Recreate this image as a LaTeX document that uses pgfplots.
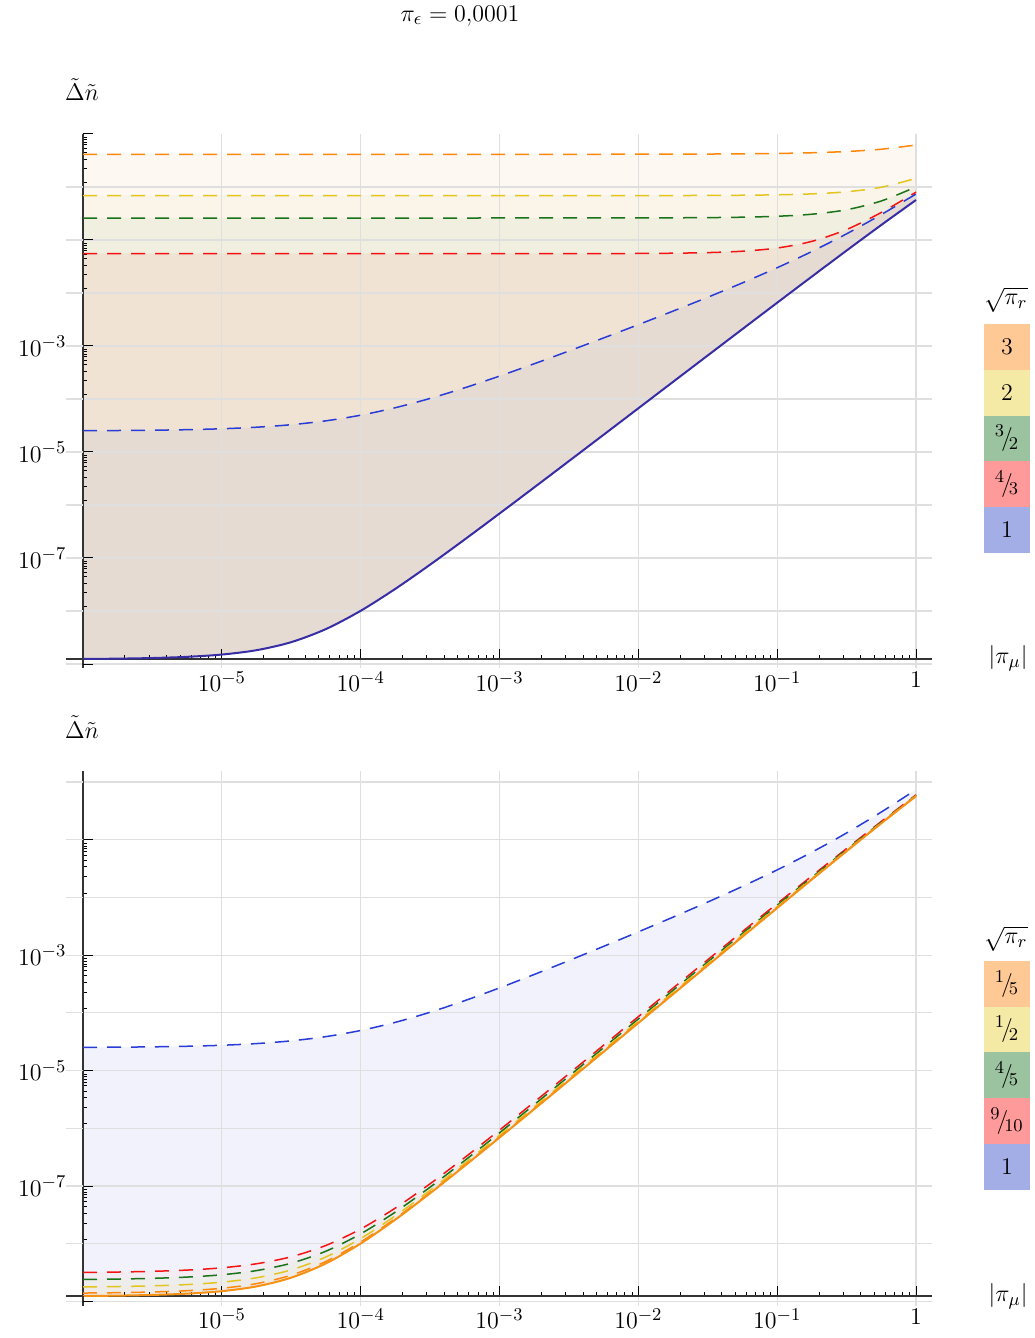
\documentclass[border=0pt]{standalone}
\usepackage{pgfplots}
\pgfplotsset{compat=1.18}
\usepackage{pgfplotstable}

\definecolor{cB}{RGB}{40,60,215}
\definecolor{cR}{RGB}{245,20,20}
\definecolor{cG}{RGB}{25,115,25}
\definecolor{cY}{RGB}{228,196,30}
\definecolor{cO}{RGB}{255,135,10}
\definecolor{cSolidTop}{RGB}{55,45,165}
\definecolor{cSolidBot}{RGB}{245,145,20}
% band colours of the shaded regions
\definecolor{tbO}{RGB}{253,248,241}
\definecolor{tbY}{RGB}{251,245,233}
\definecolor{tbG}{RGB}{241,239,224}
\definecolor{tbR}{RGB}{240,227,212}
\definecolor{tbB}{RGB}{230,219,210}
\definecolor{bbB}{RGB}{241,242,251}
\definecolor{bbR}{RGB}{243,236,242}
\definecolor{bbG}{RGB}{237,237,236}
\definecolor{bbY}{RGB}{239,236,232}
\definecolor{bbO}{RGB}{238,234,230}
% legend swatches
\definecolor{lO}{RGB}{255,201,150}
\definecolor{lY}{RGB}{245,233,166}
\definecolor{lG}{RGB}{156,195,159}
\definecolor{lR}{RGB}{255,154,154}
\definecolor{lB}{RGB}{163,173,230}

% upper panel: lower bound S and upper bounds for sqrt(pi_r) = 1, 4/3, 3/2, 2, 3
\pgfplotstableread{
x S B R G Y O
1e-6 1.2427e-9 2.5245e-5 0.0552 0.26 0.686 4.14
1.778e-6 1.2612e-9 2.5436e-5 0.0552 0.26 0.686 4.14
3.162e-6 1.2963e-9 2.5775e-5 0.0552 0.26 0.686 4.14
5.623e-6 1.3648e-9 2.6378e-5 0.0552 0.26 0.686 4.14
1e-5 1.5067e-9 2.745e-5 0.0552 0.26 0.686 4.14
1.778e-5 1.8219e-9 2.9356e-5 0.0552 0.26 0.686 4.14
3.162e-5 2.583e-9 3.2747e-5 0.0552 0.26 0.686 4.14
5.623e-5 4.566e-9 3.8776e-5 0.0552 0.26 0.686 4.14
1e-4 1.009e-8 4.950e-5 0.0552 0.26 0.686 4.14
1.778e-4 2.622e-8 6.856e-5 0.0552 0.26 0.686 4.14
3.162e-4 7.488e-8 1.0254e-4 0.0552 0.26 0.686 4.14
5.623e-4 2.245e-7 1.6294e-4 0.05521 0.26005 0.68611 4.1408
1e-3 6.902e-7 2.7058e-4 0.05522 0.26009 0.68620 4.1415
1.778e-3 2.149e-6 4.624e-4 0.05525 0.26017 0.68636 4.1427
3.162e-3 6.737e-6 8.053e-4 0.05531 0.26032 0.68664 4.1447
5.623e-3 2.119e-5 1.4202e-3 0.05543 0.26061 0.68715 4.1484
1e-2 6.681e-5 2.5306e-3 0.05571 0.26117 0.68807 4.1550
1.778e-2 2.107e-4 4.556e-3 0.05634 0.26229 0.68977 4.1667
3.162e-2 6.641e-4 8.325e-3 0.05784 0.26458 0.69299 4.1878
5.623e-2 2.090e-3 1.5544e-2 0.06146 0.26947 0.69934 4.2259
0.1 6.561e-3 3.0009e-2 0.07058 0.28046 0.71256 4.2956
0.1778 2.047e-2 6.076e-2 0.09431 0.30665 0.74203 4.4254
0.3162 6.33e-2 0.13096 0.1579 0.37262 0.81254 4.6744
0.5623 0.1925 0.30198 0.3310 0.5454 0.99096 5.1703
1 0.570 0.7378 0.8012 1.005 1.456 6.20
}\toptab

% lower panel: same S and B, upper bounds for sqrt(pi_r) = 9/10, 4/5, 1/2, 1/5
\pgfplotstableread{
x S B R G Y O
1e-6 1.2427e-9 2.5245e-5 3.183e-9 2.407e-9 1.786e-9 1.398e-9
1.778e-6 1.2612e-9 2.5436e-5 3.233e-9 2.444e-9 1.813e-9 1.419e-9
3.162e-6 1.2963e-9 2.5775e-5 3.325e-9 2.513e-9 1.864e-9 1.459e-9
5.623e-6 1.3648e-9 2.6378e-5 3.496e-9 2.644e-9 1.962e-9 1.535e-9
1e-5 1.5067e-9 2.745e-5 3.827e-9 2.899e-9 2.156e-9 1.692e-9
1.778e-5 1.8219e-9 2.9356e-5 4.496e-9 3.426e-9 2.571e-9 2.036e-9
3.162e-5 2.583e-9 3.2747e-5 5.948e-9 4.602e-9 3.525e-9 2.852e-9
5.623e-5 4.566e-9 3.8776e-5 9.347e-9 7.435e-9 5.905e-9 4.949e-9
1e-4 1.009e-8 4.950e-5 1.799e-8 1.483e-8 1.230e-8 1.072e-8
1.778e-4 2.622e-8 6.856e-5 4.155e-8 3.542e-8 3.051e-8 2.745e-8
3.162e-4 7.488e-8 1.0254e-4 1.0939e-7 9.559e-8 8.454e-8 7.764e-8
5.623e-4 2.245e-7 1.6294e-4 3.119e-7 2.770e-7 2.490e-7 2.315e-7
1e-3 6.902e-7 2.7058e-4 9.309e-7 8.346e-7 7.576e-7 7.095e-7
1.778e-3 2.149e-6 4.624e-4 2.848e-6 2.568e-6 2.345e-6 2.205e-6
3.162e-3 6.737e-6 8.053e-4 8.828e-6 7.992e-6 7.323e-6 6.904e-6
5.623e-3 2.119e-5 1.4202e-3 2.753e-5 2.500e-5 2.297e-5 2.170e-5
1e-2 6.681e-5 2.5306e-3 8.608e-5 7.837e-5 7.221e-5 6.835e-5
1.778e-2 2.107e-4 4.556e-3 2.686e-4 2.454e-4 2.269e-4 2.153e-4
3.162e-2 6.641e-4 8.325e-3 8.335e-4 7.657e-4 7.115e-4 6.777e-4
5.623e-2 2.090e-3 1.5544e-2 2.565e-3 2.375e-3 2.223e-3 2.128e-3
0.1 6.561e-3 3.0009e-2 7.815e-3 7.313e-3 6.912e-3 6.661e-3
0.1778 2.047e-2 6.076e-2 2.354e-2 2.231e-2 2.133e-2 2.072e-2
0.3162 6.33e-2 0.13096 7.022e-2 6.745e-2 6.524e-2 6.385e-2
0.5623 0.1925 0.30198 0.2070 0.2012 0.1966 0.1937
1 0.570 0.7378 0.5986 0.5872 0.5780 0.5723
}\bottab

\newcommand\sfr[2]{${}^{#1}\!\big/\!_{#2}$}

\tikzset{
  dashline/.style={line width=0.75pt, dash pattern=on 7pt off 5pt},
  band/.style={draw=none, fill=#1},
  gridext/.style={draw=gray!25, line width=0.6pt},
  axext/.style={draw=black!80, line width=0.6pt},
}

\begin{document}
\begin{tikzpicture}[font=\fontsize{12.5}{15}\selectfont]

% ---------- upper panel ----------
\begin{axis}[
    set layers,
    width=424.5pt, height=262.5pt, scale only axis,
    at={(41.5pt,-67pt)}, anchor=north west,
    xmode=log, ymode=log, log origin y=infty,
    xmin=1e-6, xmax=1.303,
    ymin=1.242e-9, ymax=10,
    axis x line=bottom, axis y line=left,
    axis line style={-, draw=black!80, line width=0.6pt},
    tick align=inside, major tick length=5pt, minor tick length=1.8pt,
    tick style={black, line width=0.5pt},
    xtick={1e-5,1e-4,1e-3,1e-2,1e-1,1},
    xticklabels={$10^{-5}$,$10^{-4}$,$10^{-3}$,$10^{-2}$,$10^{-1}$,$1$},
    minor xtick={2e-6,3e-6,4e-6,5e-6,6e-6,7e-6,8e-6,9e-6,
      2e-5,3e-5,4e-5,5e-5,6e-5,7e-5,8e-5,9e-5,
      2e-4,3e-4,4e-4,5e-4,6e-4,7e-4,8e-4,9e-4,
      2e-3,3e-3,4e-3,5e-3,6e-3,7e-3,8e-3,9e-3,
      2e-2,3e-2,4e-2,5e-2,6e-2,7e-2,8e-2,9e-2,
      0.2,0.3,0.4,0.5,0.6,0.7,0.8,0.9},
    ytick={10,1e-1,1e-3,1e-5,1e-7},
    yticklabels={,,$10^{-3}$,$10^{-5}$,$10^{-7}$},
    minor ytick={8.71,7.76,7.00,6.31,5.43,4.42,3.37,2.28,1.19,
      8.71e-2,7.76e-2,7.00e-2,6.31e-2,5.43e-2,4.42e-2,3.37e-2,2.28e-2,1.19e-2,
      8.71e-4,7.76e-4,7.00e-4,6.31e-4,5.43e-4,4.42e-4,3.37e-4,2.28e-4,1.19e-4,
      8.71e-6,7.76e-6,7.00e-6,6.31e-6,5.43e-6,4.42e-6,3.37e-6,2.28e-6,1.19e-6,
      8.71e-8,7.76e-8,7.00e-8,6.31e-8,5.43e-8,4.42e-8,3.37e-8,2.28e-8,1.19e-8},
    xmajorgrids=true, ymajorgrids=false,
    major grid style={draw=gray!25, line width=0.6pt},
    extra y ticks={1,1e-1,1e-2,1e-3,1e-4,1e-5,1e-6,1e-7,1e-8},
    extra y tick style={ymajorgrids=true, major tick length=0pt},
    extra y tick labels={},
    tick label style={font=\fontsize{12.5}{15}\selectfont},
    xticklabel style={yshift=-2.8pt},
    yticklabel style={xshift=-4.8pt},
  ]
  % shaded regions, stacked from the highest bound down
  \addplot[band=tbO, on layer=axis background, smooth] table[x=x,y=O]{\toptab} \closedcycle;
  \addplot[band=tbY, on layer=axis background, smooth] table[x=x,y=Y]{\toptab} \closedcycle;
  \addplot[band=tbG, on layer=axis background, smooth] table[x=x,y=G]{\toptab} \closedcycle;
  \addplot[band=tbR, on layer=axis background, smooth] table[x=x,y=R]{\toptab} \closedcycle;
  \addplot[band=tbB, on layer=axis background, smooth] table[x=x,y=B]{\toptab} \closedcycle;
  \addplot[band=white, on layer=axis background, smooth] table[x=x,y=S]{\toptab} \closedcycle;
  % bounds
  \addplot[cO, dashline, smooth] table[x=x,y=O]{\toptab};
  \addplot[cY, dashline, smooth] table[x=x,y=Y]{\toptab};
  \addplot[cG, dashline, smooth] table[x=x,y=G]{\toptab};
  \addplot[cR, dashline, smooth] table[x=x,y=R]{\toptab};
  \addplot[cB, dashline, smooth] table[x=x,y=B]{\toptab};
  \addplot[cSolidTop, line width=1pt, smooth] table[x=x,y=S]{\toptab};
\end{axis}

% ---------- lower panel ----------
\begin{axis}[
    set layers,
    width=424.5pt, height=262.5pt, scale only axis,
    at={(41.5pt,-385.5pt)}, anchor=north west,
    xmode=log, ymode=log, log origin y=infty,
    xmin=1e-6, xmax=1.303,
    ymin=1.242e-9, ymax=1.549,
    axis x line=bottom, axis y line=left,
    axis line style={-, draw=black!80, line width=0.6pt},
    tick align=inside, major tick length=5pt, minor tick length=1.8pt,
    tick style={black, line width=0.5pt},
    xtick={1e-5,1e-4,1e-3,1e-2,1e-1,1},
    xticklabels={$10^{-5}$,$10^{-4}$,$10^{-3}$,$10^{-2}$,$10^{-1}$,$1$},
    minor xtick={2e-6,3e-6,4e-6,5e-6,6e-6,7e-6,8e-6,9e-6,
      2e-5,3e-5,4e-5,5e-5,6e-5,7e-5,8e-5,9e-5,
      2e-4,3e-4,4e-4,5e-4,6e-4,7e-4,8e-4,9e-4,
      2e-3,3e-3,4e-3,5e-3,6e-3,7e-3,8e-3,9e-3,
      2e-2,3e-2,4e-2,5e-2,6e-2,7e-2,8e-2,9e-2,
      0.2,0.3,0.4,0.5,0.6,0.7,0.8,0.9},
    ytick={1e-1,1e-3,1e-5,1e-7},
    yticklabels={,$10^{-3}$,$10^{-5}$,$10^{-7}$},
    minor ytick={
      8.71e-2,7.76e-2,7.00e-2,6.31e-2,5.43e-2,4.42e-2,3.37e-2,2.28e-2,1.19e-2,
      8.71e-4,7.76e-4,7.00e-4,6.31e-4,5.43e-4,4.42e-4,3.37e-4,2.28e-4,1.19e-4,
      8.71e-6,7.76e-6,7.00e-6,6.31e-6,5.43e-6,4.42e-6,3.37e-6,2.28e-6,1.19e-6,
      8.71e-8,7.76e-8,7.00e-8,6.31e-8,5.43e-8,4.42e-8,3.37e-8,2.28e-8,1.19e-8},
    xmajorgrids=true, ymajorgrids=false,
    major grid style={draw=gray!25, line width=0.6pt},
    extra y ticks={1,1e-1,1e-2,1e-3,1e-4,1e-5,1e-6,1e-7,1e-8},
    extra y tick style={ymajorgrids=true, major tick length=0pt},
    extra y tick labels={},
    tick label style={font=\fontsize{12.5}{15}\selectfont},
    xticklabel style={yshift=-2.8pt},
    yticklabel style={xshift=-4.8pt},
  ]
  \addplot[band=bbB, on layer=axis background, smooth] table[x=x,y=B]{\bottab} \closedcycle;
  \addplot[band=bbR, on layer=axis background, smooth] table[x=x,y=R]{\bottab} \closedcycle;
  \addplot[band=bbG, on layer=axis background, smooth] table[x=x,y=G]{\bottab} \closedcycle;
  \addplot[band=bbY, on layer=axis background, smooth] table[x=x,y=Y]{\bottab} \closedcycle;
  \addplot[band=bbO, on layer=axis background, smooth] table[x=x,y=O]{\bottab} \closedcycle;
  \addplot[band=white, on layer=axis background, smooth] table[x=x,y=S]{\bottab} \closedcycle;
  \addplot[cB, dashline, smooth] table[x=x,y=B]{\bottab};
  \addplot[cR, dashline, smooth] table[x=x,y=R]{\bottab};
  \addplot[cG, dashline, smooth] table[x=x,y=G]{\bottab};
  \addplot[cY, dashline, smooth] table[x=x,y=Y]{\bottab};
  \addplot[cO, dashline, smooth] table[x=x,y=O]{\bottab};
  \addplot[cSolidBot, line width=1pt, smooth] table[x=x,y=S]{\bottab};
\end{axis}

% grid and axis margins left of the vertical axes and below the horizontal axes
\foreach \y in {93.5,120,146.5,173,199.5,226,252.5,279,305.5}
  {\draw[gridext] (33pt,-\y pt) -- (41.5pt,-\y pt);}
\foreach \y in {390.99,419.85,448.71,477.57,506.42,535.28,564.14,593.00,621.86}
  {\draw[gridext] (33pt,-\y pt) -- (41.5pt,-\y pt);}
\draw[gridext] (33pt,-332pt) -- (466pt,-332pt);
\draw[gridext] (33pt,-650.72pt) -- (466pt,-650.72pt);
\foreach \x in {110.92,180.34,249.76,319.18,388.6,458.02}
  {\draw[gridext] (\x pt,-329.8pt) -- (\x pt,-334pt);
   \draw[gridext] (\x pt,-648.3pt) -- (\x pt,-653pt);}
\draw[axext] (33pt,-329.5pt) -- (41.5pt,-329.5pt);
\draw[axext] (33pt,-648pt) -- (41.5pt,-648pt);
\draw[axext] (41.5pt,-329.5pt) -- (41.5pt,-334pt);
\draw[axext] (41.5pt,-648pt) -- (41.5pt,-653pt);
\draw[black, line width=0.5pt] (41.5pt,-332pt) -- (46.5pt,-332pt);
\draw[black, line width=0.5pt] (41.5pt,-650.72pt) -- (46.5pt,-650.72pt);

% titles and axis names
\node at (230pt,-8pt) {$\pi_\epsilon = 0{,}0001$};
\node at (41pt,-45pt) {$\tilde{\Delta}\tilde{n}$};
\node at (41pt,-363.5pt) {$\tilde{\Delta}\tilde{n}$};
\node at (504pt,-329pt) {$|\pi_\mu|$};
\node at (504pt,-648pt) {$|\pi_\mu|$};

% legend of the upper panel
\node[anchor=west, inner sep=0pt] at (492pt,-150pt) {$\sqrt{\pi_r}$};
\fill[lO] (492pt,-162pt) rectangle (515pt,-185pt);
\fill[lY] (492pt,-185pt) rectangle (515pt,-208pt);
\fill[lG] (492pt,-208pt) rectangle (515pt,-230.5pt);
\fill[lR] (492pt,-230.5pt) rectangle (515pt,-253.5pt);
\fill[lB] (492pt,-253.5pt) rectangle (515pt,-276.5pt);
\node at (503.5pt,-173.5pt) {$3$};
\node at (503.5pt,-196.5pt) {$2$};
\node at (503.5pt,-219.25pt) {\sfr{3}{2}};
\node at (503.5pt,-242pt) {\sfr{4}{3}};
\node at (503.5pt,-265pt) {$1$};

% legend of the lower panel
\node[anchor=west, inner sep=0pt] at (492pt,-469.5pt) {$\sqrt{\pi_r}$};
\fill[lO] (492pt,-480.5pt) rectangle (515pt,-503.5pt);
\fill[lY] (492pt,-503.5pt) rectangle (515pt,-526pt);
\fill[lG] (492pt,-526pt) rectangle (515pt,-549pt);
\fill[lR] (492pt,-549pt) rectangle (515pt,-572pt);
\fill[lB] (492pt,-572pt) rectangle (515pt,-595pt);
\node at (503.5pt,-492pt) {\sfr{1}{5}};
\node at (503.5pt,-514.75pt) {\sfr{1}{2}};
\node at (503.5pt,-537.5pt) {\sfr{4}{5}};
\node at (503.5pt,-560.5pt) {\sfr{9}{10}};
\node at (503.5pt,-583.5pt) {$1$};

% page area
\pgfresetboundingbox
\path[use as bounding box] (0,0) rectangle (517pt,-669pt);
\end{tikzpicture}
\end{document}
